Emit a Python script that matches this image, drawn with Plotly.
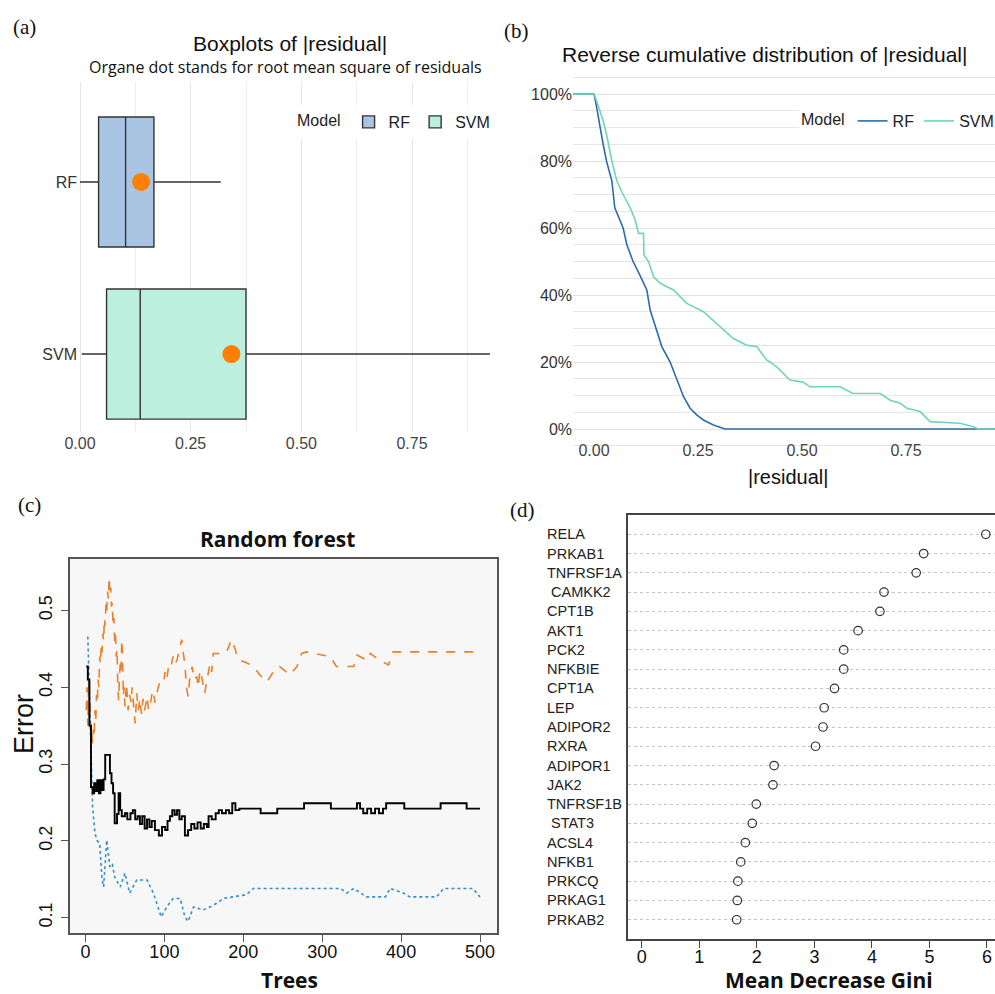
import plotly.graph_objects as go

# ---------------- Panel (a): boxplots of |residual| ----------------
box_models = ["RF", "SVM"]
box_lower = [0.000, 0.004]
box_q1 = [0.042, 0.060]
box_median = [0.103, 0.136]
box_q3 = [0.167, 0.375]
box_upper = [0.318, 0.926]
box_rmse = [0.138, 0.342]

# ---------------- Panel (b): reverse cumulative distribution ----------------
rf_x = [-0.10, 0.000, 0.005, 0.014, 0.022, 0.030, 0.043, 0.050, 0.060, 0.070, 0.079,
        0.094, 0.110, 0.127, 0.135, 0.151, 0.163, 0.183, 0.199, 0.215, 0.231, 0.247,
        0.263, 0.287, 0.315, 1.00]
rf_y = [1.0, 1.0, 0.97, 0.90, 0.85, 0.80, 0.74, 0.66, 0.63, 0.60, 0.55,
        0.50, 0.46, 0.415, 0.355, 0.295, 0.246, 0.20, 0.146, 0.097, 0.062, 0.042,
        0.027, 0.012, 0.0, 0.0]
svm_x = [-0.10, 0.000, 0.006, 0.022, 0.030, 0.043, 0.055, 0.070, 0.087, 0.099,
         0.107, 0.119, 0.120, 0.131, 0.143, 0.159, 0.191, 0.223, 0.263, 0.303,
         0.335, 0.367, 0.391, 0.415, 0.439, 0.471, 0.503, 0.519, 0.591, 0.623,
         0.688, 0.712, 0.736, 0.752, 0.784, 0.808, 0.880, 0.912, 0.923, 1.00]
svm_y = [1.0, 1.0, 0.98, 0.92, 0.88, 0.80, 0.74, 0.70, 0.66, 0.624,
         0.584, 0.584, 0.52, 0.50, 0.455, 0.435, 0.415, 0.375, 0.35, 0.305,
         0.27, 0.25, 0.246, 0.206, 0.186, 0.146, 0.14, 0.126, 0.126, 0.106,
         0.106, 0.086, 0.077, 0.062, 0.052, 0.022, 0.017, 0.007, 0.0, 0.0]

# ---------------- Panel (c): random forest error ----------------
oob_trees = [1, 3, 5, 7, 9, 11, 13, 15, 17, 19, 21, 23, 25, 29, 31, 33, 35, 37, 40, 42,
             44, 46, 50, 53, 57, 60, 63, 66, 69, 72, 75, 78, 81, 84, 88, 93, 97, 101,
             104, 107, 110, 113, 116, 119, 122, 126, 130, 134, 138, 142, 146, 150, 154,
             156, 160, 165, 169, 173, 178, 182, 186, 190, 195, 221, 222, 242, 243, 276,
             277, 310, 311, 340, 344, 348, 352, 357, 362, 367, 372, 377, 381, 403, 404,
             449, 450, 481, 483, 500]
oob_err = [0.427, 0.41, 0.35, 0.27, 0.262, 0.275, 0.265, 0.279, 0.262, 0.279, 0.266,
           0.28, 0.312, 0.312, 0.288, 0.275, 0.262, 0.223, 0.235, 0.262, 0.24, 0.232,
           0.236, 0.228, 0.236, 0.24, 0.228, 0.232, 0.222, 0.232, 0.216, 0.228, 0.218,
           0.226, 0.214, 0.207, 0.218, 0.214, 0.226, 0.232, 0.24, 0.234, 0.24, 0.228,
           0.232, 0.207, 0.214, 0.222, 0.216, 0.224, 0.216, 0.222, 0.218, 0.232, 0.228,
           0.236, 0.24, 0.236, 0.24, 0.236, 0.249, 0.24, 0.242, 0.242, 0.236, 0.236,
           0.242, 0.242, 0.249, 0.249, 0.242, 0.242, 0.249, 0.242, 0.236, 0.242, 0.236,
           0.242, 0.236, 0.242, 0.249, 0.249, 0.242, 0.242, 0.249, 0.249, 0.242, 0.242]
c1_trees = [1, 2, 3, 4, 5, 6, 7, 8, 9, 10, 11, 12, 13, 14, 15, 16, 17, 18, 19, 20, 21,
            22, 23, 24, 25, 26, 27, 28, 29, 30, 31, 32, 33, 34, 35, 36, 37, 38, 39, 40,
            41, 42, 43, 44, 45, 46, 47, 48, 49, 50, 52, 54, 56, 58, 59, 61, 63, 65, 67,
            69, 71, 73, 75, 78, 80, 82, 84, 86, 88, 90, 92, 94, 97, 99, 101, 103, 105,
            107, 109, 111, 113, 116, 119, 122, 124, 126, 128, 130, 132, 135, 138, 141,
            143, 145, 148, 151, 154, 158, 160, 162, 170, 179, 185, 190, 192, 196, 206,
            213, 221, 230, 238, 246, 259, 268, 274, 280, 310, 318, 340, 344, 357, 361,
            373, 384, 390, 500]
c1_err = [0.37, 0.40, 0.35, 0.41, 0.36, 0.38, 0.33, 0.345, 0.327, 0.345, 0.335, 0.37,
          0.355, 0.39, 0.38, 0.41, 0.40, 0.44, 0.43, 0.455, 0.445, 0.47, 0.46, 0.49,
          0.48, 0.51, 0.50, 0.525, 0.515, 0.544, 0.52, 0.53, 0.505, 0.51, 0.48, 0.49,
          0.46, 0.47, 0.44, 0.45, 0.40, 0.383, 0.41, 0.43, 0.42, 0.462, 0.44, 0.388,
          0.40, 0.375, 0.405, 0.37, 0.39, 0.38, 0.40, 0.375, 0.353, 0.392, 0.37, 0.385,
          0.365, 0.385, 0.37, 0.388, 0.37, 0.375, 0.39, 0.396, 0.38, 0.39, 0.40, 0.407,
          0.405, 0.407, 0.42, 0.41, 0.425, 0.422, 0.43, 0.44, 0.43, 0.435, 0.45, 0.462,
          0.444, 0.43, 0.40, 0.388, 0.41, 0.427, 0.41, 0.414, 0.40, 0.422, 0.41, 0.392,
          0.41, 0.431, 0.42, 0.444, 0.444, 0.446, 0.462, 0.449, 0.44, 0.435, 0.431,
          0.427, 0.416, 0.407, 0.42, 0.427, 0.416, 0.427, 0.444, 0.446, 0.44, 0.427,
          0.427, 0.442, 0.435, 0.444, 0.435, 0.429, 0.446, 0.446]
c2_trees = [3, 5, 7, 9, 12, 15, 18, 21, 23, 27, 31, 34, 37, 44, 50, 56, 65, 78, 86, 92,
            96, 103, 111, 120, 126, 130, 137, 149, 162, 175, 187, 204, 213, 323, 331, 340,
            356, 380, 386, 403, 411, 445, 454, 491, 500]
c2_err = [0.466, 0.396, 0.31, 0.245, 0.21, 0.20, 0.197, 0.15, 0.14, 0.201, 0.166, 0.17,
          0.153, 0.14, 0.158, 0.132, 0.149, 0.149, 0.132, 0.115, 0.101, 0.114, 0.125,
          0.125, 0.101, 0.095, 0.114, 0.11, 0.116, 0.125, 0.127, 0.13, 0.138, 0.138,
          0.132, 0.138, 0.127, 0.127, 0.138, 0.132, 0.127, 0.127, 0.138, 0.138, 0.127]

# ---------------- Panel (d): Mean Decrease Gini ----------------
genes = ["RELA", "PRKAB1", "TNFRSF1A", "\u00a0CAMKK2", "CPT1B", "AKT1", "PCK2", "NFKBIE",
         "CPT1A", "LEP", "ADIPOR2", "RXRA", "ADIPOR1", "JAK2", "TNFRSF1B", "\u00a0STAT3",
         "ACSL4", "NFKB1", "PRKCQ", "PRKAG1", "PRKAB2"]
gini = [5.98, 4.90, 4.77, 4.21, 4.14, 3.76, 3.51, 3.51, 3.35, 3.17, 3.15, 3.02, 2.30,
        2.28, 1.99, 1.92, 1.80, 1.72, 1.67, 1.66, 1.65]

# ---------------- styles ----------------
SANS = "Liberation Sans, Arial, sans-serif"
BOLD = "Open Sans, Liberation Sans, sans-serif"
SERIF = "Liberation Serif, Times New Roman, serif"
box_fill = {"RF": "#aac4e4", "SVM": "#bcefde"}
ecdf_col = {"RF": "#2e6ca6", "SVM": "#6fd6b8"}
W, H = 995, 994


def px_x(p):
    return p / W


def px_y(p):
    return 1 - p / H


fig = go.Figure()

# Panel (a)
for i, m in enumerate(box_models):
    fig.add_trace(go.Box(
        orientation="h", y=[m], q1=[box_q1[i]], median=[box_median[i]], q3=[box_q3[i]],
        lowerfence=[box_lower[i]], upperfence=[box_upper[i]], name=m,
        fillcolor=box_fill[m], line=dict(color="#333333", width=1.4), whiskerwidth=0,
        width=0.756, boxpoints=False, xaxis="x", yaxis="y", legend="legend",
        hoverinfo="skip"))
fig.add_trace(go.Scatter(
    x=box_rmse, y=box_models, mode="markers", marker=dict(size=18, color="#ff7f00"),
    showlegend=False, xaxis="x", yaxis="y", hoverinfo="skip"))

# Panel (b)
fig.add_trace(go.Scatter(x=rf_x, y=rf_y, mode="lines", name="RF",
                         line=dict(color=ecdf_col["RF"], width=1.6),
                         xaxis="x2", yaxis="y2", legend="legend2"))
fig.add_trace(go.Scatter(x=svm_x, y=svm_y, mode="lines", name="SVM",
                         line=dict(color=ecdf_col["SVM"], width=1.6),
                         xaxis="x2", yaxis="y2", legend="legend2"))

# Panel (c)
fig.add_trace(go.Scatter(x=c1_trees, y=c1_err, mode="lines",
                         line=dict(color="#e8822a", width=1.6, dash="dash"),
                         showlegend=False, xaxis="x3", yaxis="y3"))
fig.add_trace(go.Scatter(x=c2_trees, y=c2_err, mode="lines",
                         line=dict(color="#3a8fc8", width=1.6, dash="dot"),
                         showlegend=False, xaxis="x3", yaxis="y3"))
fig.add_trace(go.Scatter(x=oob_trees, y=oob_err, mode="lines",
                         line=dict(color="#000000", width=1.9, shape="hv"),
                         showlegend=False, xaxis="x3", yaxis="y3"))

# Panel (d)
rows = list(range(len(genes), 0, -1))
fig.add_trace(go.Scatter(x=gini, y=rows, mode="markers",
                         marker=dict(symbol="circle-open", size=8.5, color="#333333",
                                     line=dict(width=1.2, color="#333333")),
                         showlegend=False, xaxis="x4", yaxis="y4", cliponaxis=False))

# ---------------- axes ----------------
xr_a0 = (78 - 80) / 442.7
xr_a1 = (495 - 80) / 442.7
layout = dict(
    width=W, height=H, margin=dict(l=0, r=0, t=0, b=0, autoexpand=False),
    paper_bgcolor="white", plot_bgcolor="rgba(0,0,0,0)",
    font=dict(family=SANS, color="#222222"),
    boxmode="overlay",
    # (a)
    xaxis=dict(domain=[px_x(78), px_x(495)], anchor="y", range=[xr_a0, xr_a1],
               tickvals=[0, 0.25, 0.5, 0.75], tickformat=".2f", showline=False,
               zeroline=False, showgrid=True, gridcolor="#e6e6e6", gridwidth=1.2,
               minor=dict(dtick=0.125, tick0=0, showgrid=True, gridcolor="#ededed",
                          gridwidth=1),
               tickfont=dict(size=16, color="#444444"), ticks="", automargin=False),
    yaxis=dict(domain=[px_y(432), px_y(82)], anchor="x", type="category",
               categoryorder="array", categoryarray=box_models,
               range=[1.453, -0.581], showgrid=False, zeroline=False, showline=False,
               tickfont=dict(size=16, color="#333333"), ticks="", automargin=False),
    # (b)
    xaxis2=dict(domain=[px_x(573), 1.0], anchor="y2",
                range=[(573 - 594) / 416, (995 - 594) / 416],
                tickvals=[0, 0.25, 0.5, 0.75], tickformat=".2f", showgrid=False,
                zeroline=False, showline=False, ticks="",
                tickfont=dict(size=16, color="#444444"), ticklabelstandoff=-8,
                automargin=False),
    yaxis2=dict(domain=[px_y(447), px_y(74)], anchor="x2",
                range=[-18 / 335, 1 + 20 / 335], tickvals=[0, 0.2, 0.4, 0.6, 0.8, 1.0],
                tickformat=".0%", showgrid=True, gridcolor="#e3e3e3", gridwidth=1.4,
                minor=dict(dtick=0.05, tick0=0, showgrid=True, gridcolor="#e6e6e6",
                           gridwidth=1.2),
                zeroline=False, showline=False, ticks="",
                tickfont=dict(size=16, color="#333333"), automargin=False),
    # (c)
    xaxis3=dict(domain=[px_x(70), px_x(497)], anchor="y3", range=[-19.6, 521.5],
                tickvals=[0, 100, 200, 300, 400, 500], showgrid=False, zeroline=False,
                showline=True, mirror=True, linecolor="#555555", linewidth=1.5,
                ticks="outside", ticklen=7, tickcolor="#555555", ticklabelstandoff=-5,
                tickfont=dict(size=18, color="#111111"), automargin=False),
    yaxis3=dict(domain=[px_y(933), px_y(559)], anchor="x3", range=[0.080, 0.567],
                tickvals=[0.1, 0.2, 0.3, 0.4, 0.5], tickangle=-90, showgrid=False,
                zeroline=False, showline=True, mirror=True, linecolor="#555555",
                linewidth=1.5, ticks="outside", ticklen=7, tickcolor="#555555",
                ticklabelstandoff=2,
                tickfont=dict(size=18, color="#111111"), automargin=False),
    # (d)
    xaxis4=dict(domain=[px_x(628), 1.0], anchor="y4", range=[-0.24, 6.14],
                tickvals=[0, 1, 2, 3, 4, 5, 6], showgrid=False, zeroline=False,
                showline=True, mirror=True, linecolor="#444444", linewidth=1.5,
                ticks="outside", ticklen=7, tickcolor="#444444", ticklabelstandoff=-6,
                ticklabeloverflow="allow",
                tickfont=dict(size=18, color="#111111"), automargin=False),
    yaxis4=dict(domain=[px_y(939), px_y(515)], anchor="x4", range=[0, 22],
                tickvals=rows, showticklabels=False, showgrid=True, griddash="dot",
                gridcolor="#c4c4c4", gridwidth=1, zeroline=False, showline=True,
                linecolor="#444444", linewidth=1.5, ticks="", automargin=False),
    legend=dict(orientation="h", x=px_x(295), y=px_y(122), xanchor="left",
                yanchor="middle", bgcolor="white", font=dict(size=16, color="#222222"),
                title=dict(text="Model", side="left", font=dict(size=16)),
                itemwidth=30, tracegroupgap=0),
    legend2=dict(orientation="h", x=px_x(799), y=px_y(121), xanchor="left",
                 yanchor="middle", bgcolor="white", font=dict(size=16, color="#222222"),
                 title=dict(text="Model", side="left", font=dict(size=16)),
                 itemwidth=30),
)
fig.update_layout(**layout)

# panel (c) background
fig.add_shape(type="rect", xref="x3 domain", yref="y3 domain", x0=0, x1=1, y0=0, y1=1,
              fillcolor="#f7f7f7", line=dict(width=0), layer="below")

# ---------------- text ----------------
ann = []


def add_text(text, x, y, size, family=SANS, color="#111111", xanchor="center",
             yanchor="middle", angle=0):
    ann.append(dict(text=text, x=x, y=y, xref="paper", yref="paper", showarrow=False,
                    font=dict(size=size, family=family, color=color), xanchor=xanchor,
                    yanchor=yanchor, textangle=angle, borderpad=0))


add_text("(a)", px_x(12), px_y(27), 21, SERIF, xanchor="left")
add_text("(b)", px_x(503), px_y(31), 21, SERIF, xanchor="left")
add_text("(c)", px_x(17), px_y(505), 21, SERIF, xanchor="left")
add_text("(d)", px_x(509), px_y(510), 21, SERIF, xanchor="left")

add_text("Boxplots of |residual|", px_x(290), px_y(44), 21)
add_text("Organe dot stands for root mean square of residuals", px_x(285), px_y(67), 16,
         BOLD)
add_text("Reverse cumulative distribution of |residual|", px_x(764), px_y(55), 21)
add_text("|residual|", px_x(788), px_y(477), 20)
add_text("<b>Random forest</b>", px_x(277), px_y(539), 21, BOLD)
add_text("Error", px_x(24), px_y(724), 27, angle=-90)
add_text("<b>Trees</b>", px_x(289), px_y(980), 21, BOLD)
add_text("<b>Mean Decrease Gini</b>", px_x(829), px_y(980), 21, BOLD)

for g, r in zip(genes, rows):
    ann.append(dict(text=g, x=px_x(546), y=r, xref="paper", yref="y4", showarrow=False,
                    font=dict(size=14.5, family=SANS, color="#222222"), xanchor="left",
                    yanchor="middle", borderpad=0))

fig.update_layout(annotations=ann)

fig.write_html("out.html")
